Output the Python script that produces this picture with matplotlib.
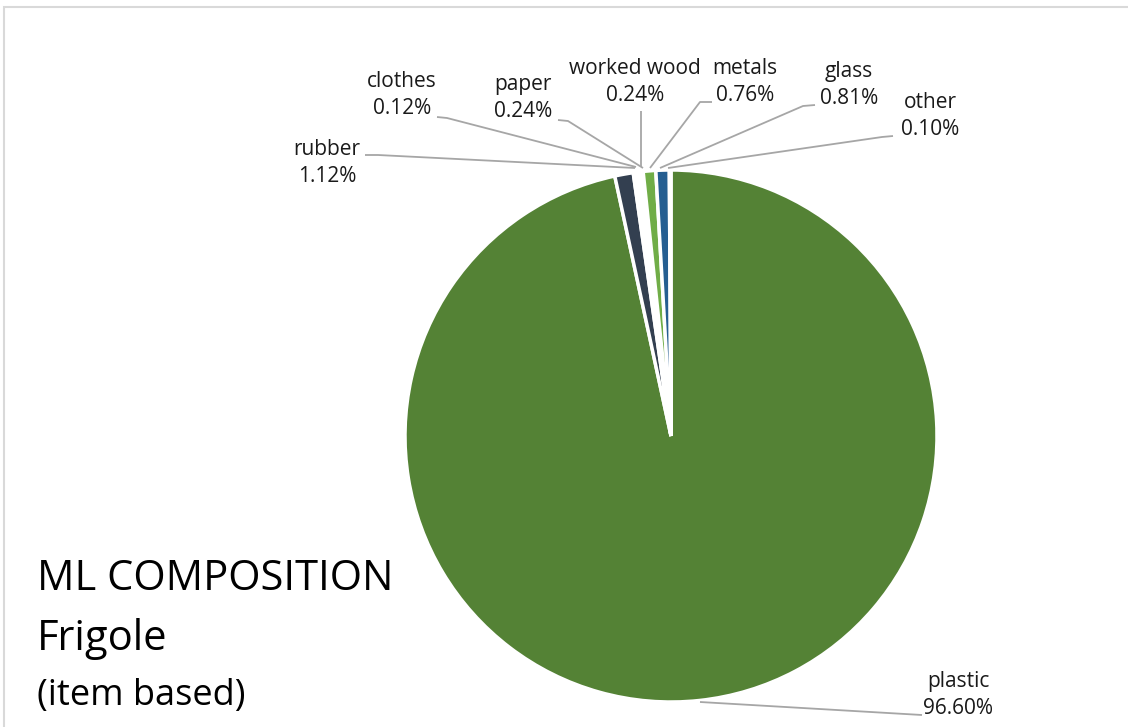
import numpy as np
import matplotlib.pyplot as plt
from matplotlib.patches import Rectangle

plt.rcParams['font.family'] = ['Open Sans', 'DejaVu Sans']

labels = ['plastic', 'rubber', 'clothes', 'paper', 'worked wood', 'metals', 'glass', 'other']
shares = [96.60, 1.12, 0.12, 0.24, 0.24, 0.76, 0.81, 0.10]
colours = ['#548235', '#333F50', '#FFFFFF', '#FFFFFF', '#FFFFFF', '#70AD47', '#255E91', '#FFFFFF']

W, H = 1128, 727

# label centres (image pixels, y down) and leader line paths
label_xy = [(958, 695), (327, 163), (402, 95), (523, 98), (635, 82), (745, 82), (849, 85), (930, 116)]
leaders = [
    [(700, 702), (922, 715)],
    [(365, 155), (378, 155), (635, 168)],
    [(437, 117), (447, 118), (636, 167)],
    [(558, 120), (568, 121), (643, 168)],
    [(641, 111), (641, 167)],
    [(712, 102), (700, 102), (650, 168)],
    [(815, 105), (803, 106), (660, 168)],
    [(893, 136), (882, 137), (668, 168)],
]


def Y(y):
    return H - y


fig = plt.figure(figsize=(W / 100, H / 100), dpi=100)
ax = fig.add_axes([0, 0, 1, 1])

ax.pie(shares, colors=colours, startangle=90, counterclock=False,
       center=(671, Y(436)), radius=266,
       wedgeprops=dict(edgecolor='white', linewidth=2.5))

for lab, val, (x, y), path in zip(labels, shares, label_xy, leaders):
    xs = [p[0] for p in path]
    ys = [Y(p[1]) for p in path]
    ax.plot(xs, ys, color='#A6A6A6', lw=1.3, solid_capstyle='butt')
    ax.text(x, Y(y), lab + '\n' + f'{val:.2f}%', ha='center', va='center',
            fontsize=15, linespacing=1.4, color='#1a1a1a')

ax.text(37, Y(590), 'ML COMPOSITION', fontsize=30, ha='left', va='baseline', color='black')
ax.text(37, Y(650), 'Frigole', fontsize=30, ha='left', va='baseline', color='black')
ax.text(37, Y(705), '(item based)', fontsize=26, ha='left', va='baseline', color='black')

ax.add_patch(Rectangle((4, Y(740)), 1140, 733, fill=False, edgecolor='#D9D9D9',
                       lw=1.5, clip_on=False))

ax.set_xlim(0, W)
ax.set_ylim(0, H)
ax.axis('off')

fig.savefig('out.png', dpi=100)
